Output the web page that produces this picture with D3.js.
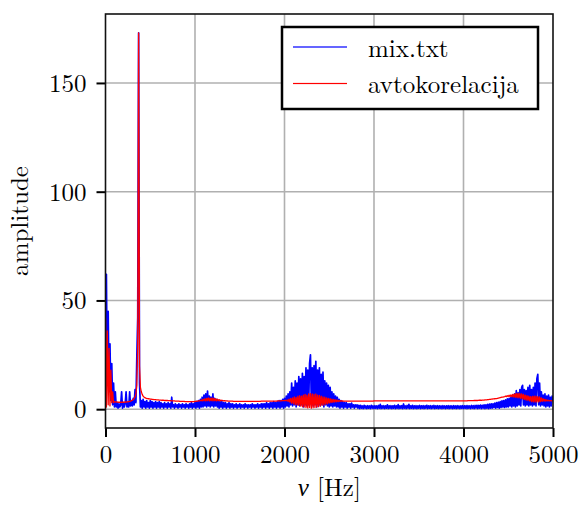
<!DOCTYPE html>
<html>
<head>
<meta charset="utf-8">
<script src="https://cdn.jsdelivr.net/npm/d3@7"></script>
<style>
  html, body { margin: 0; padding: 0; background: #fff; }
  svg { display: block; }
</style>
</head>
<body>
<svg id="chart" width="581" height="509"></svg>
<script>
// Spectrum sampled every 10 Hz from 0 to 5000 Hz (one row = 100 Hz)
const freqStep = 10;

// amplitude spectrum of mix.txt
const mixSpectrum = [
  4, 62, 12, 45, 8, 30, 4, 21, 2, 12,
  1, 8, 1, 3, 0.5, 2.5, 1, 2, 8, 0.5,
  3, 1, 2.5, 8, 1, 3, 1, 8, 1.5, 4,
  1.5, 5, 2, 9, 3, 24, 42, 173, 12, 1,
  4, 0.5, 4.5, 1, 3.5, 0.5, 4, 1, 3, 0.5,
  4, 1, 3.5, 0.5, 3, 1, 3.5, 0.5, 3, 1,
  3.5, 0.5, 3, 1, 2.5, 0.5, 3, 1, 2.5, 0.5,
  3, 1, 2.5, 0.5, 5.5, 1, 2, 0.5, 2.5, 1,
  2, 0.5, 2.5, 1, 2, 0.5, 2.5, 1, 2, 0.5,
  2.5, 1, 2, 0.5, 2.5, 1, 3, 0.5, 2.5, 1,
  3, 0.5, 3.5, 1, 4, 0.5, 4.5, 1, 5.5, 1,
  6.5, 1.5, 7, 1, 8.3, 1.5, 6, 1, 5.5, 1.5,
  7, 1, 5, 1.5, 4.5, 1, 4, 0.5, 3.5, 1,
  3.5, 0.5, 3, 1, 3, 0.5, 2.5, 1, 3, 0.5,
  2.5, 1, 2.5, 0.5, 2, 1, 2.5, 0.5, 2, 1,
  2.5, 0.5, 2, 1, 2, 0.5, 2.5, 1, 2, 0.5,
  2, 1, 2, 0.5, 2.5, 1, 2, 0.5, 2, 1,
  2.5, 0.5, 2, 1, 2.5, 0.5, 2.5, 1, 2.5, 0.5,
  3, 1, 2.5, 0.5, 3, 1, 3, 0.5, 3.5, 1,
  3, 0.5, 3.5, 1, 4, 0.5, 4, 1, 4.5, 0.5,
  5, 1, 6, 1.5, 7, 1, 8, 2, 12, 1.5,
  10, 2, 13, 1, 12, 2, 15, 1.5, 14, 2,
  16.5, 1, 15, 2, 19, 1.5, 18, 2, 21, 25,
  2, 19, 1.5, 20, 2, 22, 1, 18, 2, 19,
  1.5, 16, 2, 17, 1, 13, 2, 12, 1.5, 11,
  1, 10, 1.5, 8, 1, 7, 1.5, 6, 1, 5.5,
  1, 4.5, 0.5, 4, 1, 3.5, 0.5, 3, 1, 3,
  0.5, 2.5, 1, 2.5, 0.5, 2.8, 1, 2, 0.5, 2,
  1, 2, 0.5, 1.8, 0.3, 1.8, 0.5, 1.5, 0.3, 1.8,
  0.5, 1.5, 0.3, 1.6, 0.5, 1.5, 0.3, 1.8, 0.5, 1.5,
  0.3, 1.6, 0.5, 1.5, 0.3, 1.7, 0.5, 2.2, 0.3, 1.5,
  0.5, 1.6, 0.3, 1.5, 0.5, 2, 0.3, 1.5, 0.5, 1.6,
  0.3, 1.5, 0.5, 1.8, 0.3, 1.5, 0.5, 2.1, 0.3, 1.5,
  0.5, 1.6, 0.3, 2.4, 0.5, 1.5, 0.3, 1.7, 0.5, 2.2,
  0.3, 1.5, 0.5, 1.8, 0.3, 1.5, 0.5, 1.6, 0.3, 1.5,
  0.5, 1.7, 0.3, 1.5, 0.5, 1.6, 0.3, 1.5, 0.5, 1.8,
  0.3, 1.5, 0.5, 1.6, 0.3, 1.5, 0.5, 1.7, 0.3, 1.5,
  0.5, 1.6, 0.3, 1.5, 0.5, 1.5, 0.3, 1.6, 0.5, 1.5,
  0.3, 1.5, 0.5, 1.6, 0.3, 1.5, 0.5, 1.5, 0.3, 1.6,
  0.5, 1.5, 0.3, 1.6, 0.5, 1.5, 0.3, 1.5, 0.5, 1.6,
  0.3, 1.5, 0.5, 1.6, 0.3, 1.6, 0.5, 1.5, 0.3, 1.7,
  0.5, 1.6, 0.3, 1.7, 0.5, 1.8, 0.3, 1.7, 0.5, 1.9,
  0.3, 1.8, 0.5, 2, 0.3, 2, 0.5, 2.2, 0.3, 2.3,
  0.5, 2.5, 0.5, 2.5, 0.8, 2.8, 0.5, 3, 0.8, 3.2,
  0.5, 3.5, 0.8, 3.8, 1, 4, 0.8, 4.3, 1, 4.8,
  1, 5, 1.5, 5.5, 1, 6.5, 1.5, 7, 1, 8.5,
  1.5, 7.5, 2, 9, 1.5, 10, 11, 2, 9, 1.5,
  8.5, 2, 10, 1.5, 11, 2, 9, 1.5, 10, 2,
  12, 1.5, 14, 16, 2, 12, 1.5, 8, 2, 6.5,
  1.5, 7, 1, 6, 1.5, 6.5, 1, 5.5, 1.5, 6,
  4
];

// spectrum obtained through the autocorrelation
const autoSpectrum = [
  42, 1, 36, 2, 28, 1.5, 18, 3, 8, 3,
  3.5, 3.4, 3.3, 3.3, 3.2, 3.2, 3.2, 3.2, 3.2, 3.2,
  3.2, 3.2, 3.3, 3.3, 3.4, 3.4, 3.5, 3.6, 3.7, 3.9,
  4.1, 4.4, 4.9, 5.6, 7, 11, 30, 173, 20, 10,
  8, 6.8, 6, 5.6, 5.3, 5.1, 5, 4.9, 4.8, 4.7,
  4.6, 4.6, 4.5, 4.5, 4.4, 4.4, 4.4, 4.3, 4.3, 4.3,
  4.2, 4.2, 4.2, 4.1, 4.1, 4.1, 4, 4, 4, 4,
  3.9, 3.9, 3.9, 3.9, 3.8, 3.8, 3.8, 3.8, 3.7, 3.7,
  3.7, 3.7, 3.7, 3.6, 3.6, 3.6, 3.6, 3.6, 3.6, 3.5,
  3.5, 3.5, 3.5, 3.5, 3.5, 3.5, 3.5, 3.5, 3.5, 3.5,
  3.6, 3.6, 3.7, 3.7, 3.8, 3.8, 3.9, 4.2, 3.8, 4.5,
  3.9, 4.8, 3.8, 5, 3.9, 5.2, 3.8, 5, 3.9, 5.2,
  3.8, 5, 3.9, 4.8, 3.8, 4.6, 3.9, 4.4, 3.8, 4.2,
  3.9, 4, 3.8, 3.9, 3.8, 3.8, 3.8, 3.7, 3.7, 3.7,
  3.7, 3.7, 3.7, 3.6, 3.6, 3.6, 3.6, 3.6, 3.6, 3.6,
  3.6, 3.6, 3.6, 3.6, 3.6, 3.6, 3.6, 3.6, 3.6, 3.6,
  3.6, 3.6, 3.6, 3.6, 3.6, 3.6, 3.6, 3.6, 3.6, 3.6,
  3.6, 3.6, 3.6, 3.6, 3.7, 3.7, 3.7, 3.7, 3.7, 3.7,
  3.7, 3.7, 3.7, 3.7, 3.7, 3.7, 3.7, 3.7, 3.7, 3.7,
  3.7, 3.7, 3.8, 3.8, 3.8, 3.8, 3.8, 3.9, 3.9, 3.9,
  3.9, 4, 3.9, 4.2, 3.6, 4.6, 3.3, 5, 2.8, 5.2,
  2.5, 5.6, 2.2, 5.4, 2, 6, 1.8, 6.2, 1.5, 6,
  1.2, 6.5, 1, 6.8, 0.8, 6.5, 0.6, 7, 0.8, 7.2,
  0.5, 7, 0.7, 6.8, 0.8, 7, 1, 6.5, 1.2, 6.3,
  1.5, 6, 1.8, 5.7, 2, 5.5, 2.3, 5.2, 2.5, 5,
  2.8, 4.8, 3, 4.6, 3.2, 4.5, 3.3, 4.3, 3.4, 4.2,
  3.5, 4, 3.6, 3.9, 3.7, 3.8, 3.7, 3.7, 3.7, 3.7,
  3.7, 3.7, 3.7, 3.7, 3.7, 3.7, 3.7, 3.7, 3.7, 3.7,
  3.7, 3.7, 3.7, 3.7, 3.7, 3.7, 3.7, 3.7, 3.7, 3.7,
  3.7, 3.7, 3.7, 3.7, 3.7, 3.7, 3.7, 3.7, 3.7, 3.7,
  3.8, 3.8, 3.8, 3.8, 3.8, 3.8, 3.8, 3.8, 3.8, 3.8,
  3.8, 3.8, 3.8, 3.8, 3.8, 3.8, 3.8, 3.8, 3.8, 3.8,
  3.8, 3.8, 3.8, 3.8, 3.8, 3.8, 3.8, 3.8, 3.8, 3.8,
  3.8, 3.8, 3.8, 3.8, 3.8, 3.8, 3.8, 3.8, 3.8, 3.8,
  3.8, 3.8, 3.8, 3.8, 3.8, 3.8, 3.8, 3.8, 3.8, 3.8,
  3.8, 3.8, 3.8, 3.8, 3.8, 3.8, 3.8, 3.8, 3.8, 3.8,
  3.8, 3.8, 3.8, 3.8, 3.8, 3.8, 3.8, 3.8, 3.8, 3.8,
  3.8, 3.8, 3.8, 3.8, 3.8, 3.8, 3.8, 3.8, 3.8, 3.8,
  3.8, 3.8, 3.8, 3.8, 3.8, 3.8, 3.8, 3.8, 3.8, 3.8,
  3.8, 3.8, 3.8, 3.8, 3.8, 3.8, 3.8, 3.8, 3.8, 3.8,
  3.8, 3.8, 3.8, 3.8, 3.8, 3.9, 3.9, 3.9, 3.9, 3.9,
  3.9, 3.9, 4, 4, 4, 4, 4, 4.1, 4.1, 4.1,
  4.1, 4.2, 4.2, 4.2, 4.3, 4.3, 4.3, 4.4, 4.4, 4.5,
  4.5, 4.6, 4.6, 4.7, 4.7, 4.8, 4.9, 4.9, 5, 5.1,
  5.2, 5.3, 5.4, 5.5, 5.6, 5.7, 5.8, 6, 5.8, 6.2,
  5.9, 6.4, 5.8, 6.6, 5.7, 6.8, 5.6, 7, 5.5, 7.2,
  5.3, 7.3, 5.2, 7.2, 5, 7, 4.8, 6.8, 4.5, 6.5,
  4.2, 6.2, 4, 6, 3.8, 5.8, 3.5, 5.9, 3.4, 6,
  3.3, 6, 3.3, 5.8, 3.4, 5.6, 3.5, 5.2, 3.6, 4.8,
  3.7, 4.5, 3.7, 4.3, 3.8, 4.1, 3.8, 4, 3.8, 3.9,
  3.8
];

const seriesNames = ["mix.txt", "avtokorelacija"];
const seriesColors = ["#0000ff", "#ff0000"];
const seriesWidths = [1.7, 1.3];
const xTicks = [0, 1000, 2000, 3000, 4000, 5000];
const yTicks = [0, 50, 100, 150];

const FONT = "'Latin Modern Roman'";
const svg = d3.select("#chart");
const plotLeft = 105.5, plotRight = 553, plotTop = 14, plotBottom = 428;

const x = d3.scaleLinear().domain([0, 5000]).range([plotLeft, plotRight]);
const y = d3.scaleLinear().domain([-8.65, 181.7]).range([plotBottom, plotTop]);

// grid
const grid = svg.append("g");
grid.selectAll(".gx").data(xTicks.slice(1, -1)).join("line")
  .attr("x1", d => x(d)).attr("x2", d => x(d))
  .attr("y1", plotTop).attr("y2", plotBottom)
  .attr("stroke", "#b0b0b0").attr("stroke-width", 1.6);
grid.selectAll(".gy").data(yTicks).join("line")
  .attr("x1", plotLeft).attr("x2", plotRight)
  .attr("y1", d => y(d)).attr("y2", d => y(d))
  .attr("stroke", "#b0b0b0").attr("stroke-width", 1.6);

// spectra
svg.append("clipPath").attr("id", "plotArea")
  .append("rect").attr("x", plotLeft).attr("y", plotTop)
  .attr("width", plotRight - plotLeft).attr("height", plotBottom - plotTop);

const spectrumLine = d3.line()
  .x((d, i) => x(i * freqStep))
  .y(d => y(d));

const plot = svg.append("g").attr("clip-path", "url(#plotArea)");
[mixSpectrum, autoSpectrum].forEach((vals, k) => {
  plot.append("path")
    .datum(vals)
    .attr("d", spectrumLine)
    .attr("fill", "none")
    .attr("stroke", seriesColors[k])
    .attr("stroke-width", seriesWidths[k])
    .attr("stroke-linejoin", "round");
});

// axes
const xAxis = svg.append("g")
  .attr("transform", `translate(0,${plotBottom})`)
  .call(d3.axisBottom(x).tickValues(xTicks).tickFormat(d3.format("d"))
    .tickSize(9).tickSizeOuter(0).tickPadding(8));
const yAxis = svg.append("g")
  .attr("transform", `translate(${plotLeft},0)`)
  .call(d3.axisLeft(y).tickValues(yTicks).tickFormat(d3.format("d"))
    .tickSize(9).tickSizeOuter(0).tickPadding(10));

[xAxis, yAxis].forEach(g => {
  g.attr("font-family", null).attr("font-size", null);
  g.select(".domain").remove();
  g.selectAll(".tick line").attr("stroke", "#000").attr("stroke-width", 2);
  g.selectAll(".tick text")
    .style("font-family", FONT)
    .style("font-size", "25px").attr("fill", "#000");
});
yAxis.selectAll(".tick text").attr("dy", "0.34em");

// frame
svg.append("rect")
  .attr("x", plotLeft).attr("y", plotTop)
  .attr("width", plotRight - plotLeft).attr("height", plotBottom - plotTop)
  .attr("fill", "none").attr("stroke", "#111").attr("stroke-width", 1.6);

// axis labels
const xl = svg.append("text")
  .attr("x", (plotLeft + plotRight) / 2).attr("y", 496)
  .attr("text-anchor", "middle")
  .style("font-family", FONT).style("font-size", "25px");
xl.append("tspan").style("font-style", "italic").text("ν");
xl.append("tspan").text(" [Hz]");

svg.append("text")
  .attr("transform", `translate(28,${(plotTop + plotBottom) / 2}) rotate(-90)`)
  .attr("text-anchor", "middle")
  .style("font-family", FONT).style("font-size", "25px")
  .text("amplitude");

// legend
const legend = svg.append("g");
legend.append("rect")
  .attr("x", 282).attr("y", 27).attr("width", 256).attr("height", 82)
  .attr("fill", "#fff").attr("stroke", "#000").attr("stroke-width", 2.5);
seriesNames.forEach((name, k) => {
  const ly = 47 + k * 36.5;
  legend.append("rect")
    .attr("x", 293).attr("y", ly - 0.6).attr("width", 54).attr("height", 1.2)
    .attr("fill", seriesColors[k]);
  legend.append("text")
    .attr("x", 368).attr("y", ly + 9.5)
    .style("font-family", FONT).style("font-size", "25px")
    .text(name);
});
</script>
</body>
</html>
